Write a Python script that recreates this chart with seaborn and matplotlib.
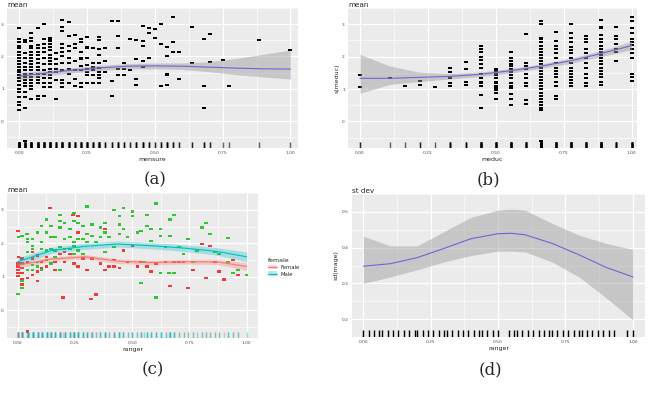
import numpy as np
import pandas as pd
import matplotlib
matplotlib.use("Agg")
import matplotlib.pyplot as plt
import seaborn as sns
from matplotlib.patches import Patch
from matplotlib.lines import Line2D

# ---------------- (a) mean ~ mensure ----------------
a_x = [0.000, 0.023, 0.045, 0.068, 0.091, 0.114, 0.136, 0.159, 0.182, 0.205,
       0.227, 0.250, 0.273, 0.295, 0.318, 0.341, 0.364, 0.386, 0.409, 0.432,
       0.455, 0.477, 0.500, 0.523, 0.545, 0.568, 0.591, 0.636, 0.682, 0.705,
       0.750, 0.773, 0.886, 1.000]
a_y = [
    [2.87, 2.54, 2.44, 2.34, 2.25, 2.15, 2.05, 1.95, 1.86, 1.76, 1.66, 1.57, 1.52, 1.42, 1.33, 1.23, 1.13, 1.00, 0.89, 0.74, 0.60, 0.50, 0.36],
    [2.52, 2.44, 2.10, 1.95, 1.81, 1.66, 1.57, 1.47, 1.37, 1.28, 1.18, 1.08, 0.89, 0.74, 0.42, -0.61],
    [2.73, 2.58, 2.49, 2.34, 2.25, 2.15, 2.05, 1.95, 1.86, 1.76, 1.66, 1.57, 1.47, 1.37, 1.28, 1.18, 1.08, 0.99, 0.70],
    [2.87, 2.36, 2.25, 2.15, 2.05, 1.91, 1.81, 1.66, 1.57, 1.47, 1.37, 1.28, 1.18, 0.79, 0.70],
    [3.02, 2.54, 2.39, 2.25, 2.15, 1.95, 1.76, 1.57, 1.47, 1.33, 1.18, 1.06, 0.77],
    [2.58, 2.54, 2.49, 2.39, 2.29, 2.20, 2.05, 1.95, 1.86, 1.76, 1.62, 1.52, 1.42, 1.33, 1.18, 1.06],
    [2.10, 1.91, 1.76, 1.62, 1.52, 1.28, 0.70],
    [3.14, 2.90, 2.78, 2.39, 2.25, 2.15, 2.00, 1.81, 1.57, 1.28, 1.18, 1.06],
    [3.08, 2.63, 2.34, 2.17, 1.95, 1.81, 1.62, 1.47, 1.18],
    [2.68, 2.39, 2.25, 1.86, 1.57, 1.30, 1.08],
    [2.54, 2.44, 2.15, 1.95, 1.91, 1.71, 1.57, 1.18, 1.06],
    [2.60, 2.29, 2.25, 1.95, 1.74, 1.62, 1.52, 1.42, 1.18],
    [2.26, 1.81, 1.66, 1.57, 1.42, 1.18],
    [2.61, 2.51, 2.22, 2.05, 1.81, 1.64, 1.52, 1.42, 1.33, 1.18],
    [2.25, 1.86, 1.52],
    [3.10, 1.25, 0.77],
    [3.09, 2.63, 2.27, 1.62, 1.44],
    [1.81, 1.62, 1.42],
    [2.54, 1.57],
    [2.51, 1.93, 1.30, 1.12],
    [2.94, 2.47, 2.34, 1.86, 1.66],
    [2.87, 2.73, 1.94],
    [2.85, 2.57],
    [3.00, 2.39, 1.10],
    [2.29, 2.00, 1.47, 1.42, 1.13],
    [3.21, 2.44, 2.15],
    [2.13, 1.30],
    [2.90, 1.79],
    [2.54, 1.08, 0.40],
    [2.71, 1.84],
    [1.88],
    [1.08],
    [2.52],
    [2.20],
]
a_sx = [0.0, 0.1, 0.2, 0.3, 0.4, 0.5, 0.6, 0.7, 0.8, 0.9, 1.0]
a_fit = [1.39, 1.49, 1.58, 1.65, 1.70, 1.71, 1.70, 1.67, 1.64, 1.62, 1.61]
a_hi = [1.50, 1.57, 1.66, 1.73, 1.78, 1.80, 1.80, 1.84, 1.94, 2.07, 2.20]
a_lo = [1.28, 1.41, 1.50, 1.57, 1.62, 1.62, 1.60, 1.53, 1.44, 1.37, 1.30]

# ---------------- (b) mean ~ meduc ----------------
b_x = [0.000, 0.111, 0.167, 0.222, 0.278, 0.333, 0.389, 0.444, 0.500, 0.556,
       0.611, 0.667, 0.722, 0.778, 0.833, 0.889, 0.944, 1.000]
b_y = [
    [1.44, 1.07],
    [1.33],
    [1.08],
    [1.26, 1.11],
    [1.06],
    [1.64, 1.52, 1.33, 1.18, 1.10],
    [1.84, 1.61, 1.23, 1.11],
    [2.32, 2.25, 2.13, 2.00, 1.91, 1.78, 1.66, 1.47, 1.33, 1.23, 1.18, 1.08, 0.81, 0.40],
    [1.62, 1.57, 1.47, 1.42, 1.33, 1.23, 1.18, 1.10, 1.04, 0.97, 0.89, 0.70],
    [2.15, 1.95, 1.86, 1.78, 1.71, 1.62, 1.52, 1.42, 1.33, 1.18, 1.10, 1.04, 0.84, 0.70, 0.52],
    [2.70, 1.81, 1.71, 1.62, 1.47, 1.33, 1.18, 1.10, 0.65, 0.55],
    [3.10, 3.00, 2.58, 2.54, 2.44, 2.34, 2.25, 2.15, 2.05, 1.95, 1.86, 1.76, 1.66, 1.57, 1.47, 1.37,
     1.28, 1.18, 1.08, 0.99, 0.89, 0.79, 0.70, 0.60, 0.50, 0.42, 0.36, -0.61],
    [2.75, 2.49, 2.34, 2.25, 2.10, 1.95, 1.81, 1.66, 1.57, 1.47, 1.37, 1.23, 1.08, 0.79, 0.70],
    [3.02, 2.73, 2.58, 2.44, 2.29, 2.20, 2.10, 1.95, 1.81, 1.66, 1.57, 1.47, 1.37, 1.28, 1.18, 1.08],
    [2.63, 2.54, 2.44, 2.25, 2.10, 1.95, 1.81, 1.66, 1.47, 1.33, 1.18, 1.10],
    [3.14, 2.90, 2.87, 2.68, 2.54, 2.44, 2.34, 2.25, 2.15, 2.05, 1.95, 1.86, 1.76, 1.66, 1.57, 1.47, 1.37, 1.23, 1.13],
    [2.92, 2.65, 2.54, 2.39, 2.25, 2.15, 1.86],
    [3.21, 3.10, 2.87, 2.73, 2.54, 2.44, 2.36, 2.25, 2.10, 1.95, 1.47, 1.37, 1.26],
]
b_sx = [0.0, 0.11, 0.22, 0.33, 0.44, 0.56, 0.67, 0.78, 0.89, 1.0]
b_fit = [1.33, 1.33, 1.36, 1.39, 1.45, 1.57, 1.71, 1.88, 2.10, 2.34]
b_hi = [2.07, 1.71, 1.52, 1.48, 1.52, 1.64, 1.78, 1.96, 2.19, 2.47]
b_lo = [0.87, 1.14, 1.23, 1.31, 1.38, 1.50, 1.64, 1.80, 2.01, 2.21]

# ---------------- (c) mean ~ ranger, by female ----------------
c_male_x = [0.00, 0.02, 0.02, 0.003, 0.02, 0.04, 0.043, 0.043, 0.043, 0.043, 0.065, 0.065, 0.065, 0.065, 0.065,
            0.087, 0.087, 0.087, 0.104, 0.104, 0.104, 0.104, 0.126, 0.126, 0.126, 0.126, 0.145, 0.145, 0.145, 0.145,
            0.162, 0.162, 0.162, 0.184, 0.184, 0.184, 0.184, 0.184, 0.205, 0.205, 0.205, 0.227, 0.227, 0.227,
            0.245, 0.245, 0.245, 0.245, 0.245, 0.263, 0.263, 0.263, 0.285, 0.285, 0.285, 0.303, 0.303, 0.303,
            0.324, 0.324, 0.342, 0.361, 0.361, 0.382, 0.382, 0.382, 0.40, 0.422, 0.422, 0.444, 0.444, 0.444,
            0.462, 0.462, 0.48, 0.501, 0.501, 0.523, 0.54, 0.54, 0.564, 0.564, 0.581, 0.581, 0.603, 0.603,
            0.624, 0.624, 0.646, 0.665, 0.665, 0.682, 0.682, 0.704, 0.725, 0.743, 0.766, 0.783, 0.805, 0.824,
            0.841, 0.863, 0.881, 0.92, 0.92, 0.942, 0.964, 1.0, 0.66, 0.624, 0.552]
c_male_y = [0.50, 0.68, 0.87, 2.18, 2.22, 2.27, 2.13, 2.03, 1.74, 1.21, 2.13, 1.93, 1.84, 1.35, 1.21,
            2.32, 1.45, 1.31, 2.52, 2.03, 1.84, 1.21, 2.71, 2.32, 1.79, 1.50, 2.52, 2.18, 1.84, 1.40,
            2.18, 1.79, 1.60, 2.85, 2.66, 2.47, 1.89, 1.21, 2.61, 2.13, 1.84, 2.42, 2.18, 1.84,
            2.90, 2.66, 2.03, 1.93, 1.69, 2.61, 2.13, 1.79, 2.52, 2.13, 1.69, 3.10, 2.27, 2.03,
            2.56, 2.22, 2.03, 2.47, 2.18, 2.61, 2.32, 1.74, 2.18, 3.00, 1.89, 2.81, 2.56, 2.27,
            3.05, 2.42, 2.18, 2.95, 2.81, 2.32, 2.37, 0.82, 2.85, 2.52, 2.42, 2.08, 3.19, 0.39,
            2.42, 2.22, 1.89, 2.71, 2.22, 2.85, 1.11, 1.89, 1.69, 2.13, 1.45, 1.79, 2.47, 2.61,
            2.27, 1.74, 1.69, 2.15, 1.45, 1.11, 1.21, 1.06, 1.11, 1.11, 1.45]
c_fem_x = [0.00, 0.00, 0.00, 0.00, 0.00, 0.00, 0.003, 0.02, 0.02, 0.02, 0.02, 0.02, 0.02, 0.043, 0.043, 0.043,
           0.065, 0.065, 0.065, 0.087, 0.087, 0.087, 0.104, 0.104, 0.126, 0.126, 0.14, 0.162, 0.162, 0.184,
           0.198, 0.205, 0.205, 0.227, 0.241, 0.245, 0.263, 0.263, 0.263, 0.285, 0.303, 0.321, 0.324, 0.342,
           0.361, 0.382, 0.382, 0.40, 0.422, 0.422, 0.444, 0.462, 0.48, 0.501, 0.523, 0.54, 0.564, 0.581,
           0.603, 0.646, 0.665, 0.682, 0.704, 0.725, 0.743, 0.766, 0.805, 0.824, 0.841, 0.863, 0.881, 0.902,
           0.942, 0.964]
c_fem_y = [2.37, 1.40, 1.31, 1.21, 1.11, 1.02, 1.60, 1.55, 1.40, 1.26, 1.11, 0.92, 0.77, -0.63, 0.97, 1.45,
           1.74, 1.55, 1.06, 1.64, 1.16, 0.87, 1.45, 1.26, 1.60, 1.31, 3.05, 1.45, 1.21, 1.69,
           0.39, 1.74, 1.45, 1.69, 2.85, 1.40, 2.81, 2.32, 1.31, 1.55, 1.21, 0.34, 1.55, 0.48,
           1.40, 2.42, 1.21, 1.31, 1.50, 1.31, 1.26, 1.79, 1.45, 1.93, 1.31, 1.45, 1.31, 1.16,
           1.40, 1.45, 0.72, 1.45, 1.45, 1.45, 0.68, 1.21, 1.98, 0.97, 1.93, 1.45, 1.16, 0.92,
           1.50, 1.06]
c_sx = [0.0, 0.147, 0.292, 0.436, 0.581, 0.725, 0.87, 1.0]
c_male_fit = [1.45, 1.79, 1.91, 1.98, 1.93, 1.86, 1.76, 1.60]
c_male_hi = [1.57, 1.88, 2.00, 2.07, 2.02, 1.96, 1.87, 1.74]
c_male_lo = [1.33, 1.70, 1.82, 1.89, 1.84, 1.76, 1.65, 1.45]
c_fem_fit = [1.35, 1.53, 1.60, 1.47, 1.43, 1.45, 1.45, 1.31]
c_fem_hi = [1.44, 1.60, 1.67, 1.54, 1.50, 1.52, 1.53, 1.42]
c_fem_lo = [1.26, 1.46, 1.53, 1.40, 1.36, 1.38, 1.37, 1.20]

# ---------------- (d) st dev ~ ranger ----------------
d_sx = [0.0, 0.1, 0.2, 0.3, 0.4, 0.5, 0.55, 0.6, 0.7, 0.8, 0.9, 1.0]
d_fit = [0.348, 0.355, 0.372, 0.398, 0.425, 0.439, 0.440, 0.436, 0.412, 0.380, 0.345, 0.318]
d_hi = [0.432, 0.405, 0.405, 0.445, 0.485, 0.505, 0.508, 0.505, 0.468, 0.435, 0.412, 0.395]
d_lo = [0.300, 0.318, 0.338, 0.360, 0.378, 0.390, 0.390, 0.388, 0.360, 0.318, 0.260, 0.198]
d_rug = [0.00, 0.02, 0.04, 0.06, 0.07, 0.09, 0.11, 0.13, 0.15, 0.17, 0.19, 0.20, 0.22, 0.24,
         0.26, 0.28, 0.30, 0.31, 0.33, 0.35, 0.37, 0.39, 0.41, 0.43, 0.44, 0.46, 0.48, 0.50,
         0.54, 0.56, 0.57, 0.59, 0.61, 0.63, 0.65, 0.67, 0.69, 0.70, 0.72, 0.74, 0.76, 0.78,
         0.80, 0.81, 0.83, 0.85, 0.87, 0.89, 0.91, 0.93, 0.98, 1.00]

BG = "#EBEBEB"
LINE = "#6C66D6"
BAND = "#999999"
# wide, flat point glyph (ggplot points look like short dashes at this size)
DASH = [(-1.6, -1.0), (1.6, -1.0), (1.6, 1.0), (-1.6, 1.0), (-1.6, -1.0)]


def px_axes(fig, x0, y0, x1, y1):
    W, H = 652.0, 398.0
    return fig.add_axes([x0 / W, 1 - y1 / H, (x1 - x0) / W, (y1 - y0) / H])


def gg_style(ax, xlim, ylim, yticks, ylabels, xlabel, ylabel, title):
    ax.set_facecolor(BG)
    ax.set_xlim(xlim)
    ax.set_ylim(ylim)
    ax.set_xticks([0, 0.25, 0.5, 0.75, 1.0])
    ax.set_xticklabels(["0.00", "0.25", "0.50", "0.75", "1.00"])
    ax.set_xticks([0.125, 0.375, 0.625, 0.875], minor=True)
    ax.set_yticks(yticks)
    ax.set_yticklabels(ylabels)
    ys = sorted(yticks)
    step = ys[1] - ys[0]
    ax.set_yticks([v + step / 2 for v in ys] + [ys[0] - step / 2], minor=True)
    ax.grid(which="major", color="white", lw=0.9)
    ax.grid(which="minor", color="white", lw=0.45)
    ax.set_axisbelow(True)
    for s in ax.spines.values():
        s.set_visible(False)
    ax.tick_params(which="major", length=1.5, width=0.5, color="#333333",
                   labelsize=3.2, labelcolor="#4D4D4D", pad=0.8)
    ax.tick_params(which="minor", length=0)
    ax.set_xlabel(xlabel, fontsize=4.5, labelpad=1)
    ax.set_ylabel(ylabel, fontsize=4.5, labelpad=2)
    ax.set_title(title, fontsize=5.2, loc="left", pad=1.0)


def smooth(ax, xs, fit, lo, hi, line_col, band_col, alpha):
    ax.fill_between(xs, lo, hi, color=band_col, alpha=alpha, lw=0, zorder=3)
    sns.lineplot(x=xs, y=fit, ax=ax, color=line_col, lw=0.8, zorder=4)


sns.set_theme(style="darkgrid")
plt.rcParams["font.family"] = ["DejaVu Sans"]
fig = plt.figure(figsize=(6.52, 3.98), dpi=100)
fig.patch.set_facecolor("white")

# panel (a)
df_a = pd.DataFrame({"mensure": [x for x, col in zip(a_x, a_y) for _ in col],
                     "mean": [v for col in a_y for v in col]})
ax = px_axes(fig, 7, 8, 298, 148)
sns.scatterplot(data=df_a, x="mensure", y="mean", ax=ax, color="black", marker=DASH,
                s=6, linewidth=0, zorder=2)
smooth(ax, a_sx, a_fit, a_lo, a_hi, LINE, BAND, 0.45)
sns.rugplot(data=df_a, x="mensure", ax=ax, color="black", height=0.04, lw=1.3, alpha=0.6)
gg_style(ax, (-0.045, 1.028), (-0.83, 3.41), [0, 1, 2, 3], ["0", "1", "2", "3"],
         "mensure", "", "mean")

# panel (b)
df_b = pd.DataFrame({"meduc": [x for x, col in zip(b_x, b_y) for _ in col],
                     "mean": [v for col in b_y for v in col]})
ax = px_axes(fig, 348, 8, 637, 148)
sns.scatterplot(data=df_b, x="meduc", y="mean", ax=ax, color="black", marker=DASH,
                s=6, linewidth=0, zorder=2)
smooth(ax, b_sx, b_fit, b_lo, b_hi, LINE, BAND, 0.45)
sns.rugplot(data=df_b, x="meduc", ax=ax, color="black", height=0.04, lw=1.3, alpha=0.6)
gg_style(ax, (-0.044, 1.02), (-0.82, 3.41), [0, 1, 2, 3], ["0", "1", "2", "3"],
         "meduc", "s(meduc)", "mean")

# panel (c)
df_c = pd.DataFrame({"ranger": c_fem_x + c_male_x,
                     "mean": c_fem_y + c_male_y,
                     "female": ["Female"] * len(c_fem_x) + ["Male"] * len(c_male_x)})
ax = px_axes(fig, 7, 193, 258, 338)
sns.scatterplot(data=df_c, x="ranger", y="mean", hue="female", ax=ax,
                palette={"Female": "#EE3B3B", "Male": "#33C433"}, marker=DASH,
                s=7, linewidth=0, zorder=2, legend=False)
smooth(ax, c_sx, c_fem_fit, c_fem_lo, c_fem_hi, "#F8766D", "#F8766D", 0.3)
smooth(ax, c_sx, c_male_fit, c_male_lo, c_male_hi, "#00BFC4", "#00BFC4", 0.3)
sns.rugplot(data=df_c, x="ranger", hue="female", ax=ax, height=0.04, lw=1.0, alpha=0.45,
            palette={"Female": "#F8766D", "Male": "#00BFC4"}, legend=False)
gg_style(ax, (-0.047, 1.05), (-0.82, 3.40), [0, 1, 2, 3], ["0", "1", "2", "3"],
         "ranger", "", "mean")

# legend for (c)
handles = [(Patch(facecolor="#F8766D", alpha=0.3, edgecolor="none"), Line2D([], [], color="#F8766D", lw=0.8)),
           (Patch(facecolor="#00BFC4", alpha=0.3, edgecolor="none"), Line2D([], [], color="#00BFC4", lw=0.8))]
leg = fig.legend(handles, ["Female", "Male"], title="female", loc="upper left",
                 bbox_to_anchor=(266 / 652, 1 - 256 / 398), frameon=False,
                 fontsize=3.8, title_fontsize=4.5, handlelength=1.6, handleheight=1.0,
                 borderaxespad=0, labelspacing=0.3)
leg._legend_box.align = "left"

# panel (d)
ax = px_axes(fig, 352, 194, 645, 337)
smooth(ax, d_sx, d_fit, d_lo, d_hi, LINE, BAND, 0.45)
sns.rugplot(x=d_rug, ax=ax, color="black", height=0.05, lw=1.3)
gg_style(ax, (-0.042, 1.045), (0.181, 0.524), [0.2, 0.3, 0.4, 0.5],
         ["0.2", "0.3", "0.4", "0.5"], "ranger", "sd(mage)", "st dev")

# captions
for lab, cx, cy in [("(a)", 155, 180), ("(b)", 488, 180), ("(c)", 153, 370), ("(d)", 490, 370)]:
    fig.text(cx / 652, 1 - cy / 398, lab, ha="center", va="center",
             fontsize=12, family="DejaVu Serif")

fig.savefig("out.png", dpi=100)
